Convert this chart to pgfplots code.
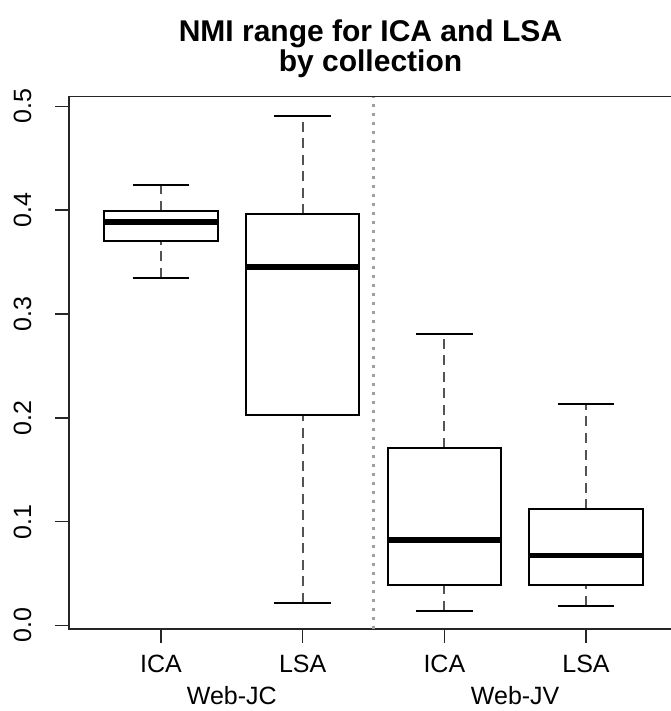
\documentclass[border=0pt]{standalone}
\usepackage{fontspec}
\setmainfont{Liberation Sans}
\usepackage{pgfplots}
\pgfplotsset{compat=1.18}
\begin{document}
\begin{tikzpicture}
\useasboundingbox (0,0) rectangle (670pt,711pt);
\begin{axis}[
  at={(69pt,82pt)}, anchor=south west,
  scale only axis, width=603pt, height=532.3pt,
  xmin=0.3506, xmax=4.607, ymin=-0.0034, ymax=0.5094,
  unbounded coords=jump,
  axis line style={black!85, line width=1.6pt},
  tick style={black!85, line width=1.6pt},
  major tick length=14pt, tick align=outside,
  xtick pos=lower, ytick pos=left,
  xtick={1,2,3,4}, xticklabels={ICA,LSA,ICA,LSA},
  xticklabel style={yshift=-9pt},
  extra x ticks={1.5,3.5}, extra x tick labels={Web-JC,Web-JV},
  extra x tick style={tick style={draw=none}, xticklabel style={yshift=-31pt}},
  ytick={0,0.1,0.2,0.3,0.4,0.5},
  yticklabels={0.0,0.1,0.2,0.3,0.4,0.5},
  tick label style={font=\fontsize{25}{30}\selectfont},
  yticklabel style={xshift=-20pt, rotate=90, anchor=south},
  /pgf/number format/assume math mode=true,
  title={NMI range for ICA and LSA\\by collection},
  title style={align=center, font=\fontsize{30}{30}\bfseries\selectfont, yshift=9pt},
]
% separator between collections
\addplot[gray!75, line width=2.2pt, dash pattern=on 2.5pt off 6.5pt] coordinates {(2.5,-0.0034) (2.5,0.5094)};
% whisker stems (dashed)
\addplot[gray!65!black, line width=2.2pt, dash pattern=on 10pt off 6.5pt] coordinates {
  (1,0.3348) (1,0.3707) (1,nan) (1,0.3996) (1,0.4247) (1,nan)
  (2,0.0220) (2,0.2028) (2,nan) (2,0.3961) (2,0.4911) (2,nan)
  (3,0.0143) (3,0.0390) (3,nan) (3,0.1713) (3,0.2808) (3,nan)
  (4,0.0188) (4,0.0390) (4,nan) (4,0.1122) (4,0.2134)
};
% whisker caps
\addplot[black, line width=2.2pt] coordinates {
  (0.8,0.3348) (1.2,0.3348) (1,nan) (0.8,0.4247) (1.2,0.4247) (1,nan)
  (1.8,0.0220) (2.2,0.0220) (2,nan) (1.8,0.4911) (2.2,0.4911) (2,nan)
  (2.8,0.0143) (3.2,0.0143) (3,nan) (2.8,0.2808) (3.2,0.2808) (3,nan)
  (3.8,0.0188) (4.2,0.0188) (4,nan) (3.8,0.2134) (4.2,0.2134)
};
% boxes (lower quartile to upper quartile)
\addplot[black, line width=1.8pt, line join=miter] coordinates {(0.6,0.3707) (1.4,0.3707) (1.4,0.3996) (0.6,0.3996) (0.6,0.3707)} -- cycle;
\addplot[black, line width=1.8pt, line join=miter] coordinates {(1.6,0.2028) (2.4,0.2028) (2.4,0.3961) (1.6,0.3961) (1.6,0.2028)} -- cycle;
\addplot[black, line width=1.8pt, line join=miter] coordinates {(2.6,0.0390) (3.4,0.0390) (3.4,0.1713) (2.6,0.1713) (2.6,0.0390)} -- cycle;
\addplot[black, line width=1.8pt, line join=miter] coordinates {(3.6,0.0390) (4.4,0.0390) (4.4,0.1122) (3.6,0.1122) (3.6,0.0390)} -- cycle;
% medians
\addplot[black, line width=5.5pt] coordinates {
  (0.6,0.3887) (1.4,0.3887) (1,nan)
  (1.6,0.3451) (2.4,0.3451) (2,nan)
  (2.6,0.0821) (3.4,0.0821) (3,nan)
  (3.6,0.0672) (4.4,0.0672)
};
\end{axis}
\end{tikzpicture}
\end{document}
